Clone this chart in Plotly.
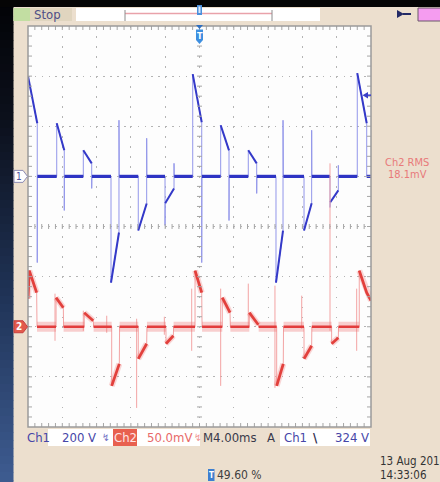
import plotly.graph_objects as go

# ---------------------------------------------------------------------------
# Acquisition data
# ---------------------------------------------------------------------------
# Ch1 (200 V/div): time in ms, level in V
ch1_t = [0.00, 1.08, 1.08, 1.10, 3.35, 3.35, 4.23, 4.23, 4.25, 6.45,
         6.45, 7.43, 7.43, 7.45, 9.68, 9.68, 10.61, 10.61, 10.65, 12.86,
         12.86, 13.84, 13.84, 13.86, 15.98, 15.98, 16.00, 17.03, 17.03, 17.05,
         19.21, 19.21, 20.26, 20.26, 20.28, 22.47, 22.47, 23.44, 23.44, 23.46,
         25.69, 25.69, 26.67, 26.67, 26.69, 28.92, 28.92, 29.74, 29.74, 29.78,
         32.19, 32.19, 33.08, 33.08, 33.10, 35.22, 35.22, 35.25, 36.19, 36.19,
         36.21, 38.40, 38.40, 39.50, 39.50, 40.00]
ch1_v = [400, 212, -344, 0, 0, 212, 104, -136, 0, 0,
         104, 52, -48, 0, 0, -424, -224, 224, 0, 0,
         -216, -108, 152, 0, 0, -196, -107, -48, 52, 0,
         0, 408, 216, -344, 0, 0, 204, 104, -176, 0,
         0, 104, 52, -68, 0, 0, -424, -216, 224, 0,
         0, -216, -107, 184, 0, 0, -124, -103, -56, 44,
         0, 0, 412, 212, 0, 0]

# Ch2 (50 mV/div): time in ms, level in mV
ch2_t = [0.00, 0.15, 1.01, 1.05, 3.27, 3.27, 4.12, 4.15, 6.56, 6.56,
         7.61, 7.65, 9.76, 9.76, 10.65, 10.68, 12.86, 12.86, 13.84, 13.87,
         16.09, 16.09, 16.95, 16.98, 19.48, 19.48, 20.26, 20.30, 22.66, 22.66,
         23.56, 23.60, 25.81, 25.81, 26.86, 26.90, 29.00, 29.00, 29.77, 29.80,
         32.19, 32.19, 33.08, 33.10, 35.41, 35.41, 36.19, 36.21, 38.63, 38.63,
         39.50, 40.00]
ch2_mv = [28, 56, 34, 0, 0, 29, 19, 0, 0, 14,
          6, 0, 0, -59, -37, 0, 0, -32, -17, 0,
          0, -17, -9, 0, 0, 56, 34, 0, 0, 29,
          14, 0, 0, 14, 2, 0, 0, -59, -37, 0,
          0, -32, -19, 0, 0, -17, -11, 0, 0, 56,
          34, 26]

# Short glitches on Ch2: time (ms), peak and trough (mV)
ch2_glitch_t = [3.15, 6.45, 9.18, 12.67, 15.90, 19.09, 22.47, 25.69, 28.80, 31.92, 35.22, 38.33]
ch2_glitch_hi = [33, 16, 11, 8, 10, 38, 38, 43, 41, 31, 163, 38]
ch2_glitch_lo = [-14, -4, -6, -81, -8, -24, -59, 0, -61, -2, -4, -24]

ch1_trigger_level = 324   # V
ch2_rms_text = "18.1mV"
record_percent = "49.60 %"

# ---------------------------------------------------------------------------
# Screen geometry (pixels) and vertical settings
# ---------------------------------------------------------------------------
W, H = 440, 482
X0, X1, Y0, Y1 = 28, 371, 26, 427
T_DIV, CH1_DIV, CH2_DIV = 4.0, 200.0, 50.0
N_XDIV, N_YDIV = 10, 8
CH1_POS, CH2_POS = 5, 2            # divisions above the bottom edge

FONT = "DejaVu Sans Condensed, Liberation Sans Narrow, DejaVu Sans, sans-serif"
BEIGE = "#ecdfce"


def px(x):
    return (x - X0) / (X1 - X0)


def py(y):
    return (Y1 - y) / (Y1 - Y0)


def split_runs(t, v, keep):
    """Collect consecutive samples whose segment satisfies keep(), None-separated."""
    xs, ys, last = [], [], None
    for i in range(len(t) - 1):
        if keep(t[i], v[i], t[i + 1], v[i + 1]):
            if last != i:
                if xs:
                    xs.append(None)
                    ys.append(None)
                xs.append(t[i])
                ys.append(v[i])
            xs.append(t[i + 1])
            ys.append(v[i + 1])
            last = i + 1
    return xs, ys


def is_slow(t0, v0, t1, v1):
    return t1 - t0 >= 0.1


def is_flat(t0, v0, t1, v1):
    return is_slow(t0, v0, t1, v1) and v0 == 0 and v1 == 0


def is_ramp(t0, v0, t1, v1):
    return is_slow(t0, v0, t1, v1) and not (v0 == 0 and v1 == 0)


fig = go.Figure()

# Fast edges are drawn thin and faint, slow portions bright and thicker
thin2_x, thin2_y = list(ch2_t), list(ch2_mv)
for t, hi, lo in zip(ch2_glitch_t, ch2_glitch_hi, ch2_glitch_lo):
    thin2_x += [None, t, t]
    thin2_y += [None, hi, lo]
fig.add_trace(go.Scatter(x=thin2_x, y=thin2_y, yaxis="y2", mode="lines",
                         line=dict(color="#f3a4a4", width=1), hoverinfo="skip"))
fig.add_trace(go.Scatter(x=ch1_t, y=ch1_v, yaxis="y", mode="lines",
                         line=dict(color="#9296ea", width=1), hoverinfo="skip"))

fx, fy = split_runs(ch2_t, ch2_mv, is_flat)
rx, ry = split_runs(ch2_t, ch2_mv, is_ramp)
fig.add_trace(go.Scatter(x=fx, y=fy, yaxis="y2", mode="lines",
                         line=dict(color="rgba(240,110,110,0.32)", width=10), hoverinfo="skip"))
fig.add_trace(go.Scatter(x=rx, y=ry, yaxis="y2", mode="lines",
                         line=dict(color="rgba(240,110,110,0.28)", width=6), hoverinfo="skip"))
fig.add_trace(go.Scatter(x=fx, y=fy, yaxis="y2", mode="lines",
                         line=dict(color="#e23c3c", width=2.5), hoverinfo="skip"))
fig.add_trace(go.Scatter(x=rx, y=ry, yaxis="y2", mode="lines",
                         line=dict(color="#e2403c", width=2.8), hoverinfo="skip"))

bfx, bfy = split_runs(ch1_t, ch1_v, is_flat)
brx, bry = split_runs(ch1_t, ch1_v, is_ramp)
fig.add_trace(go.Scatter(x=bfx, y=bfy, yaxis="y", mode="lines",
                         line=dict(color="#2e34c4", width=3.2), hoverinfo="skip"))
fig.add_trace(go.Scatter(x=brx, y=bry, yaxis="y", mode="lines",
                         line=dict(color="#3439c8", width=2), hoverinfo="skip"))

shapes = []
annotations = []


def rect(x0, y0, x1, y1, fill, line=None, lw=1):
    shapes.append(dict(type="rect", xref="paper", yref="paper",
                       x0=px(x0), x1=px(x1), y0=py(y1), y1=py(y0),
                       fillcolor=fill, line=dict(color=line or fill, width=lw if line else 0),
                       layer="above"))


def seg(x0, y0, x1, y1, color, lw=1):
    shapes.append(dict(type="line", xref="paper", yref="paper",
                       x0=px(x0), x1=px(x1), y0=py(y0), y1=py(y1),
                       line=dict(color=color, width=lw)))


def poly(points, fill, line=None, lw=1):
    d = "M " + " L ".join(f"{px(a):.5f},{py(b):.5f}" for a, b in points) + " Z"
    shapes.append(dict(type="path", xref="paper", yref="paper", path=d,
                       fillcolor=fill, line=dict(color=line or fill, width=lw if line else 0)))


def label(x, y, text, color, size=13, anchor="left", weight="normal"):
    annotations.append(dict(x=px(x), y=py(y), xref="paper", yref="paper", text=text,
                            showarrow=False, xanchor=anchor, yanchor="middle",
                            borderpad=0,
                            font=dict(family=FONT, size=size, color=color, weight=weight)))


# Left edge gradient strip
stops = [(0, (2, 3, 6)), (120, (12, 16, 28)), (300, (32, 52, 88)), (482, (62, 92, 145))]
band = 8
for yb in range(0, H, band):
    yc = yb + band / 2
    for (ya, ca), (yb2, cb) in zip(stops[:-1], stops[1:]):
        if ya <= yc <= yb2:
            f = (yc - ya) / (yb2 - ya)
            c = tuple(int(round(ca[k] + (cb[k] - ca[k]) * f)) for k in range(3))
            break
    rect(0, yb, 13.5, yb + band + 0.5, "rgb(%d,%d,%d)" % c)

# Top bar
rect(0, 0, W, 7, "#050505")
rect(13.5, 8, 72, 21, "#e0d5bf")
rect(13.5, 8, 30, 21, "#c2dea2")
label(33, 14.5, "Stop", "#4e4e86", 13)
rect(76, 8, 320, 21, "#ffffff")
seg(125, 13.5, 272, 13.5, "#e9a2aa", 1.5)
seg(125, 10, 125, 21, "#8c8c8c", 1)
seg(272, 10, 272, 21, "#8c8c8c", 1)
rect(197, 5, 202, 15, "#4a8fdc")
rect(198.5, 6.5, 200.5, 13, "#d8e8fa")
poly([(397, 10), (397, 18), (404, 14)], "#222a66")
seg(403, 14, 411, 14, "#222a66", 2)
rect(418, 8, 446, 21, "#f59cf0", "#6a5a6a", 1)

# Graticule: tick rulers along the edges and centre lines
tick_c = "#a6a6a6"
xm = (X0 + X1) / 2
ym = (Y0 + Y1) / 2
for k in range(1, N_XDIV * 5):
    xx = X0 + k * (X1 - X0) / (N_XDIV * 5)
    seg(xx, Y0, xx, Y0 + 4, tick_c)
    seg(xx, Y1 - 4, xx, Y1, tick_c)
    seg(xx, ym - 2.5, xx, ym + 2.5, tick_c)
for k in range(1, N_YDIV * 5):
    yy = Y0 + k * (Y1 - Y0) / (N_YDIV * 5)
    seg(X0, yy, X0 + 4, yy, tick_c)
    seg(X1 - 4, yy, X1, yy, tick_c)
    seg(xm - 2.5, yy, xm + 2.5, yy, tick_c)
shapes.append(dict(type="rect", xref="paper", yref="paper", x0=0, x1=1, y0=0, y1=1,
                   line=dict(color="#9a9a9a", width=1.5)))

# Trigger position marker
poly([(196, 25), (203, 25), (199.5, 29)], "#2f6fc0")
poly([(196, 29.5), (203, 29.5), (203, 40), (199.5, 44), (196, 40)], "#3d8fe0")
label(199.5, 36, "T", "#ffffff", 9, anchor="center", weight="bold")

# Trigger level arrow on the right edge (Ch1 scale)
lv = ch1_trigger_level
shapes.append(dict(type="path", xref="paper", yref="y",
                   path=f"M {px(362.5)},{lv} L {px(368)},{lv + 13} L {px(368)},{lv - 13} Z",
                   fillcolor="#3a3fc8", line=dict(width=0)))
shapes.append(dict(type="line", xref="paper", yref="y", x0=px(367), x1=px(371), y0=lv, y1=lv,
                   line=dict(color="#3a3fc8", width=1.5)))

# Channel ground markers
ch1_y = Y1 - CH1_POS * (Y1 - Y0) / N_YDIV
ch2_y = Y1 - CH2_POS * (Y1 - Y0) / N_YDIV
poly([(14, ch1_y - 6), (23, ch1_y - 6), (27.5, ch1_y), (23, ch1_y + 6), (14, ch1_y + 6)],
     "#ffffff", "#8c8cb4", 1)
label(18.5, ch1_y, "1", "#5050a0", 10, anchor="center")
poly([(14, ch2_y - 6), (23, ch2_y - 6), (27.5, ch2_y), (23, ch2_y + 6), (14, ch2_y + 6)],
     "#e25a4c", "#c84040", 1)
label(18.5, ch2_y, "2", "#ffffff", 10, anchor="center", weight="bold")

# Measurement readout
label(407, 162.5, "Ch2 RMS", "#e87a7a", 11, anchor="center")
label(407, 174.5, ch2_rms_text, "#e87a7a", 11, anchor="center")

# Bottom status line
blue_t = "#4646a8"
rect(48, 429, 113, 446, "#ffffff")
rect(137, 429, 200, 446, "#ffffff")
rect(113, 429, 137, 446, "#e8604f")
rect(280, 429, 370, 446, "#ffffff")
label(26, 437.5, "Ch1", blue_t, 13)
label(61, 437.5, f"{CH1_DIV:.0f} V", blue_t, 13)
label(101, 437.5, "↯", "#7070c4", 10)
label(125, 437.5, "Ch2", "#ffe4e4", 13, anchor="center")
label(146, 437.5, f"{CH2_DIV:.1f}mV", "#e86a6a", 13)
label(193, 437.5, "↯", "#f09494", 10)
label(202, 437.5, f"M{T_DIV:.2f}ms", "#3a3a4a", 13)
label(266, 437.5, "A", "#3a3a4a", 13)
label(283, 437.5, "Ch1", blue_t, 13)
label(312, 437.5, "\\", "#303050", 13, weight="bold")
label(370, 437.5, f"{ch1_trigger_level} V", blue_t, 13, anchor="right")

rect(208, 469, 214.5, 481, "#3d7fd0")
label(211.2, 475, "T", "#ffffff", 8, anchor="center", weight="bold")
label(216, 475, record_percent, "#404040", 12)
label(379, 460.5, "13 Aug 201", "#333333", 11.5)
label(379, 474.5, "14:33:06", "#333333", 11.5)

fig.update_layout(
    width=W, height=H, autosize=False,
    margin=dict(l=X0, r=W - X1, t=Y0, b=H - Y1, pad=0),
    paper_bgcolor=BEIGE, plot_bgcolor="#fdfdfd",
    showlegend=False,
    shapes=shapes, annotations=annotations,
    xaxis=dict(range=[0, N_XDIV * T_DIV], dtick=T_DIV, tick0=0,
               showgrid=True, gridcolor="#b4b4b4", gridwidth=1, griddash="1.5px,8.52px",
               zeroline=False, showticklabels=False, ticks="", showline=False, fixedrange=True),
    yaxis=dict(range=[-CH1_POS * CH1_DIV, (N_YDIV - CH1_POS) * CH1_DIV], dtick=CH1_DIV,
               tick0=-CH1_POS * CH1_DIV,
               showgrid=True, gridcolor="#b4b4b4", gridwidth=1, griddash="1.5px,5.36px",
               zeroline=False, showticklabels=False, ticks="", showline=False, fixedrange=True),
    yaxis2=dict(range=[-CH2_POS * CH2_DIV, (N_YDIV - CH2_POS) * CH2_DIV], overlaying="y",
                showgrid=False, zeroline=False, showticklabels=False, ticks="",
                showline=False, fixedrange=True),
)

fig.write_html("out.html", config={"displayModeBar": False})
